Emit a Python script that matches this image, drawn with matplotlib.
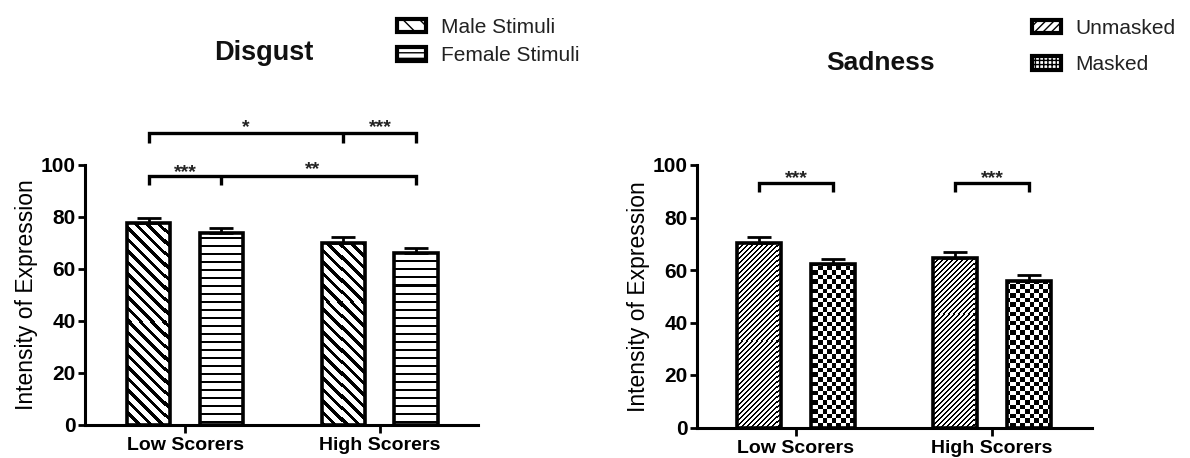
import numpy as np
import matplotlib
matplotlib.use("Agg")
import matplotlib.pyplot as plt
from matplotlib.patches import Patch

plt.rcParams['font.family'] = ['Liberation Sans', 'DejaVu Sans']

# ---------------- data ----------------
groups = ["Low Scorers", "High Scorers"]

disgust_series = ["Male Stimuli", "Female Stimuli"]
disgust_male = [77.7, 70.1]
disgust_female = [73.7, 66.3]
disgust_male_err = [1.8, 2.1]
disgust_female_err = [1.9, 1.8]

sadness_series = ["Unmasked", "Masked"]
sadness_unmasked = [70.2, 64.6]
sadness_masked = [62.3, 55.8]
sadness_unmasked_err = [2.5, 2.3]
sadness_masked_err = [2.0, 2.3]

yticks = [0, 20, 40, 60, 80, 100]
ylabel = "Intensity of Expression"

# ---------------- figure ----------------
W, H = 1190, 458
fig = plt.figure(figsize=(W / 100, H / 100), dpi=100)

BW = 0.225
OFF = 0.187
LW = 2.6


def texture(kind, w, h):
    yy, xx = np.mgrid[0:h, 0:w]
    if kind == "back":
        on = ((xx - yy) % 11.5) < 4.5
    elif kind == "fwd":
        on = ((xx + yy) % 5) < 1.6
    elif kind == "hline":
        on = (yy % 8) < 2
    elif kind == "checker":
        on = ((xx // 4.6 + yy // 4.6) % 2) == 0
    else:
        on = np.zeros_like(xx, dtype=bool)
    return np.where(on, 0.0, 1.0)


def panel(rect, vals_a, vals_b, err_a, err_b, kinds, xlim):
    ax = fig.add_axes(rect)
    x = np.arange(len(groups))
    bars_a = ax.bar(x - OFF, vals_a, BW, facecolor="none", edgecolor="black",
                    linewidth=LW, zorder=3)
    bars_b = ax.bar(x + OFF, vals_b, BW, facecolor="none", edgecolor="black",
                    linewidth=LW, zorder=3)
    ax.errorbar(x - OFF, vals_a, yerr=[np.zeros(len(x)), err_a], fmt="none",
                ecolor="black", elinewidth=2, capsize=8.5, capthick=2, zorder=2.5)
    ax.errorbar(x + OFF, vals_b, yerr=[np.zeros(len(x)), err_b], fmt="none",
                ecolor="black", elinewidth=2, capsize=8.5, capthick=2, zorder=2.5)
    pw = int(round(rect[2] * W))
    ph = int(round(rect[3] * H))
    for bars, kind in zip([bars_a, bars_b], kinds):
        tex = texture(kind, pw, ph)
        for b in bars:
            im = ax.imshow(tex, cmap="gray", vmin=0, vmax=1, extent=(xlim[0], xlim[1], 0, 100),
                           aspect="auto", interpolation="nearest", origin="upper", zorder=2)
            im.set_clip_path(b)
    ax.set_xlim(*xlim)
    ax.set_ylim(0, 100)
    ax.set_xticks(x)
    ax.set_xticklabels(groups, fontsize=14, fontweight="bold")
    ax.set_yticks(yticks)
    ax.set_yticklabels([str(t) for t in yticks], fontsize=15, fontweight="bold")
    ax.set_ylabel(ylabel, fontsize=16.5, labelpad=2)
    for s in ["top", "right"]:
        ax.spines[s].set_visible(False)
    for s in ["left", "bottom"]:
        ax.spines[s].set_linewidth(2.2)
    ax.tick_params(axis="both", width=2, length=5, pad=1.5)
    ax.tick_params(axis="x", length=6, pad=3)
    return ax, x


def bracket(ax, x0, x1, y, drop, mids=(), lw=2.4):
    ax.plot([x0, x0, x1, x1], [y - drop, y, y, y - drop], color="black", lw=lw,
            clip_on=False, solid_capstyle="butt", solid_joinstyle="miter", zorder=4)
    for m in mids:
        ax.plot([m, m], [y, y - drop], color="black", lw=lw, clip_on=False,
                solid_capstyle="butt", zorder=4)


def stars(ax, xc, y, s):
    ax.text(xc, y, s, ha="center", va="baseline", fontsize=14, fontweight="bold",
            clip_on=False, color="#222222")


# ---- Disgust ----
xl1 = (-0.513, 1.503)
ax1, x1 = panel([85 / W, (H - 425) / H, (478 - 85) / W, 260 / H],
                disgust_male, disgust_female, disgust_male_err, disgust_female_err,
                ["back", "hline"], xl1)
mL, fL, mH, fH = x1[0] - OFF, x1[0] + OFF, x1[1] - OFF, x1[1] + OFF
bracket(ax1, mL, fH, 112.3, 3.8, mids=[mH])
bracket(ax1, mL, fH, 95.8, 3.6, mids=[fL])
stars(ax1, (mL + mH) / 2, 112.8, "*")
stars(ax1, (mH + fH) / 2, 112.6, "***")
stars(ax1, (mL + fL) / 2, 95.4, "***")
stars(ax1, (fL + fH) / 2 - 0.03, 96.5, "**")

# ---- Sadness ----
xl2 = (-0.505, 1.51)
ax2, x2 = panel([697 / W, (H - 427.5) / H, (1092 - 697) / W, (427.5 - 165) / H],
                sadness_unmasked, sadness_masked, sadness_unmasked_err, sadness_masked_err,
                ["fwd", "checker"], xl2)
for g in x2:
    bracket(ax2, g - OFF, g + OFF, 93.3, 3.4)
    stars(ax2, g, 93.0, "***")

# ---- titles ----
fig.text(264 / W, 1 - 53 / H, "Disgust", ha="center", va="center", fontsize=19.5,
         fontweight="bold", color="#111111")
fig.text(881 / W, 1 - 63 / H, "Sadness", ha="center", va="center", fontsize=19,
         fontweight="bold", color="#111111")

# ---- legends ----
h1 = [Patch(facecolor="white", edgecolor="black", hatch="\\\\", linewidth=3),
      Patch(facecolor="white", edgecolor="black", hatch="---", linewidth=3)]
leg1 = fig.legend(h1, disgust_series, loc="upper left", bbox_to_anchor=(396.5 / W, 1 - 18 / H),
                  frameon=False, fontsize=15, handlelength=1.4, handleheight=0.62,
                  handletextpad=0.72, labelspacing=0.45, borderpad=0, borderaxespad=0)
h2 = [Patch(facecolor="white", edgecolor="black", hatch="////", linewidth=3),
      Patch(facecolor="white", edgecolor="black", hatch="++++", linewidth=3)]
leg2 = fig.legend(h2, sadness_series, loc="upper left", bbox_to_anchor=(1031.5 / W, 1 - 19 / H),
                  frameon=False, fontsize=15, handlelength=1.4, handleheight=0.62,
                  handletextpad=0.72, labelspacing=0.84, borderpad=0, borderaxespad=0)
for leg in (leg1, leg2):
    for t in leg.get_texts():
        t.set_color("#222222")

fig.savefig("out.png", dpi=100)
